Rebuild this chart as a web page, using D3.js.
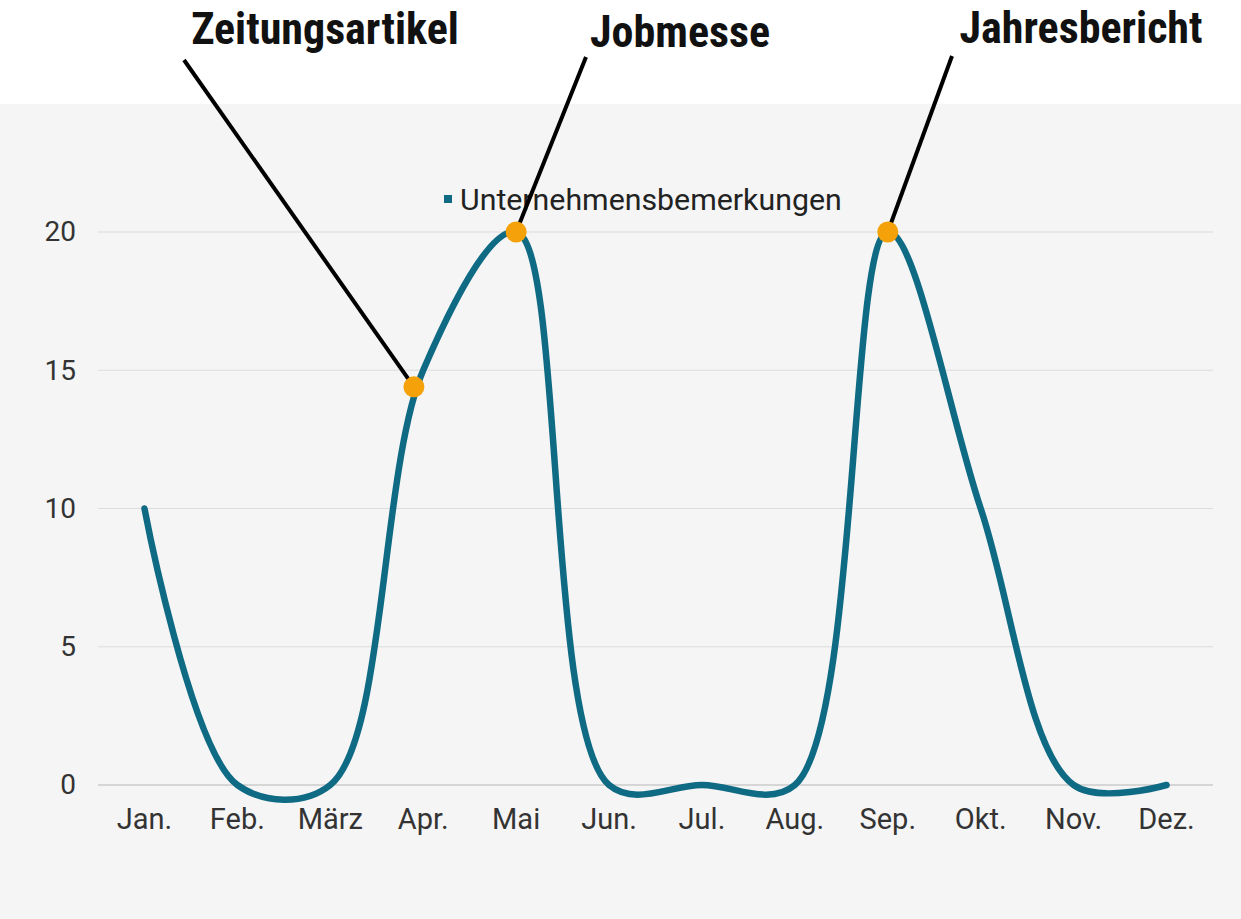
<!DOCTYPE html>
<html>
<head>
<meta charset="utf-8">
<script src="https://cdn.jsdelivr.net/npm/d3@7"></script>
<style>
  html, body { margin: 0; padding: 0; background: #fff; }
  svg { display: block; }
</style>
</head>
<body>
<div id="chart"></div>
<script>
// Daten
const months = ['Jan.', 'Feb.', 'März', 'Apr.', 'Mai', 'Jun.', 'Jul.', 'Aug.', 'Sep.', 'Okt.', 'Nov.', 'Dez.'];
const values = [10, 0, 0, 15, 20, 0, 0, 0, 20, 10, 0, 0];
const seriesName = 'Unternehmensbemerkungen';
const yTicks = [0, 5, 10, 15, 20];

// Anmerkungen (Monatsindex, Wert)
const annotLabels = ['Zeitungsartikel', 'Jobmesse', 'Jahresbericht'];
const annotIndex = [2.9, 4, 8];
const annotValues = [14.4, 20, 20];

const W = 1241, H = 919;
const plot = { left: 98, right: 1213, top: 232, bottom: 785 };
const panelTop = 104;
const teal = '#0f6a84';
const orange = '#f5a20a';

// Textpositionen der Anmerkungen + Startpunkt der Linie
const annotLayout = [
  { tx: 325, ty: 44, lx: 184, ly: 60 },
  { tx: 680, ty: 47, lx: 586, ly: 57 },
  { tx: 1081, ty: 43, lx: 952, ly: 56 }
];

const svg = d3.select('#chart').append('svg')
  .attr('width', W).attr('height', H);

svg.append('rect')
  .attr('x', 0).attr('y', panelTop)
  .attr('width', W).attr('height', H - panelTop)
  .attr('fill', '#f5f5f5');

const x = d3.scaleBand().domain(months).range([plot.left, plot.right]);
const xi = d3.scaleLinear().domain([0, months.length - 1])
  .range([x(months[0]) + x.bandwidth() / 2, x(months[months.length - 1]) + x.bandwidth() / 2]);
const y = d3.scaleLinear().domain([0, 20]).range([plot.bottom, plot.top]);

// Gitterlinien
svg.append('g')
  .selectAll('line')
  .data(yTicks)
  .join('line')
  .attr('x1', plot.left).attr('x2', plot.right)
  .attr('y1', d => y(d)).attr('y2', d => y(d))
  .attr('stroke', d => d === 0 ? '#b8b8b8' : '#dcdcdc')
  .attr('stroke-width', 1.2);

// y-Achse
const yAxis = svg.append('g')
  .attr('transform', `translate(${plot.left - 22},0)`)
  .call(d3.axisLeft(y).tickValues(yTicks).tickSize(0).tickPadding(0));
yAxis.select('.domain').remove();
yAxis.selectAll('text')
  .attr('font-family', 'Roboto, sans-serif')
  .attr('font-size', 28)
  .attr('fill', '#333');

// x-Achse
const xAxis = svg.append('g')
  .attr('transform', `translate(0,${plot.bottom + 18})`)
  .call(d3.axisBottom(x).tickSize(0).tickPadding(0));
xAxis.select('.domain').remove();
xAxis.selectAll('text')
  .attr('dy', '0.9em')
  .attr('font-family', 'Roboto, sans-serif')
  .attr('font-size', 29)
  .attr('fill', '#333');

// Legende
const legend = svg.append('g').attr('transform', 'translate(444,199)');
legend.append('rect')
  .attr('x', 0).attr('y', -4).attr('width', 8).attr('height', 8)
  .attr('fill', teal);
legend.append('text')
  .attr('x', 16).attr('dy', '0.35em')
  .attr('font-family', 'Roboto, sans-serif')
  .attr('font-size', 30.3)
  .attr('fill', '#222')
  .text(seriesName);

// Linie
const line = d3.line()
  .x((d, i) => xi(i))
  .y(d => y(d))
  .curve(d3.curveCatmullRom.alpha(0.5));

svg.append('path')
  .datum(values)
  .attr('fill', 'none')
  .attr('stroke', teal)
  .attr('stroke-width', 6.5)
  .attr('stroke-linecap', 'round')
  .attr('d', line);

// Anmerkungen
const ann = annotLabels.map((label, i) => ({
  label, px: xi(annotIndex[i]), py: y(annotValues[i]), ...annotLayout[i]
}));

svg.append('g')
  .selectAll('line')
  .data(ann)
  .join('line')
  .attr('x1', d => d.lx).attr('y1', d => d.ly)
  .attr('x2', d => d.px).attr('y2', d => d.py)
  .attr('stroke', '#000')
  .attr('stroke-width', 4);

svg.append('g')
  .selectAll('circle')
  .data(ann)
  .join('circle')
  .attr('cx', d => d.px).attr('cy', d => d.py)
  .attr('r', 10.5)
  .attr('fill', orange);

svg.append('g')
  .selectAll('text')
  .data(ann)
  .join('text')
  .attr('x', d => d.tx).attr('y', d => d.ty)
  .attr('text-anchor', 'middle')
  .attr('font-family', "'Liberation Sans Narrow', 'Roboto Condensed', 'Arial Narrow', sans-serif")
  .attr('font-weight', 'bold')
  .attr('font-size', 44)
  .attr('fill', '#111')
  .text(d => d.label);
</script>
</body>
</html>
